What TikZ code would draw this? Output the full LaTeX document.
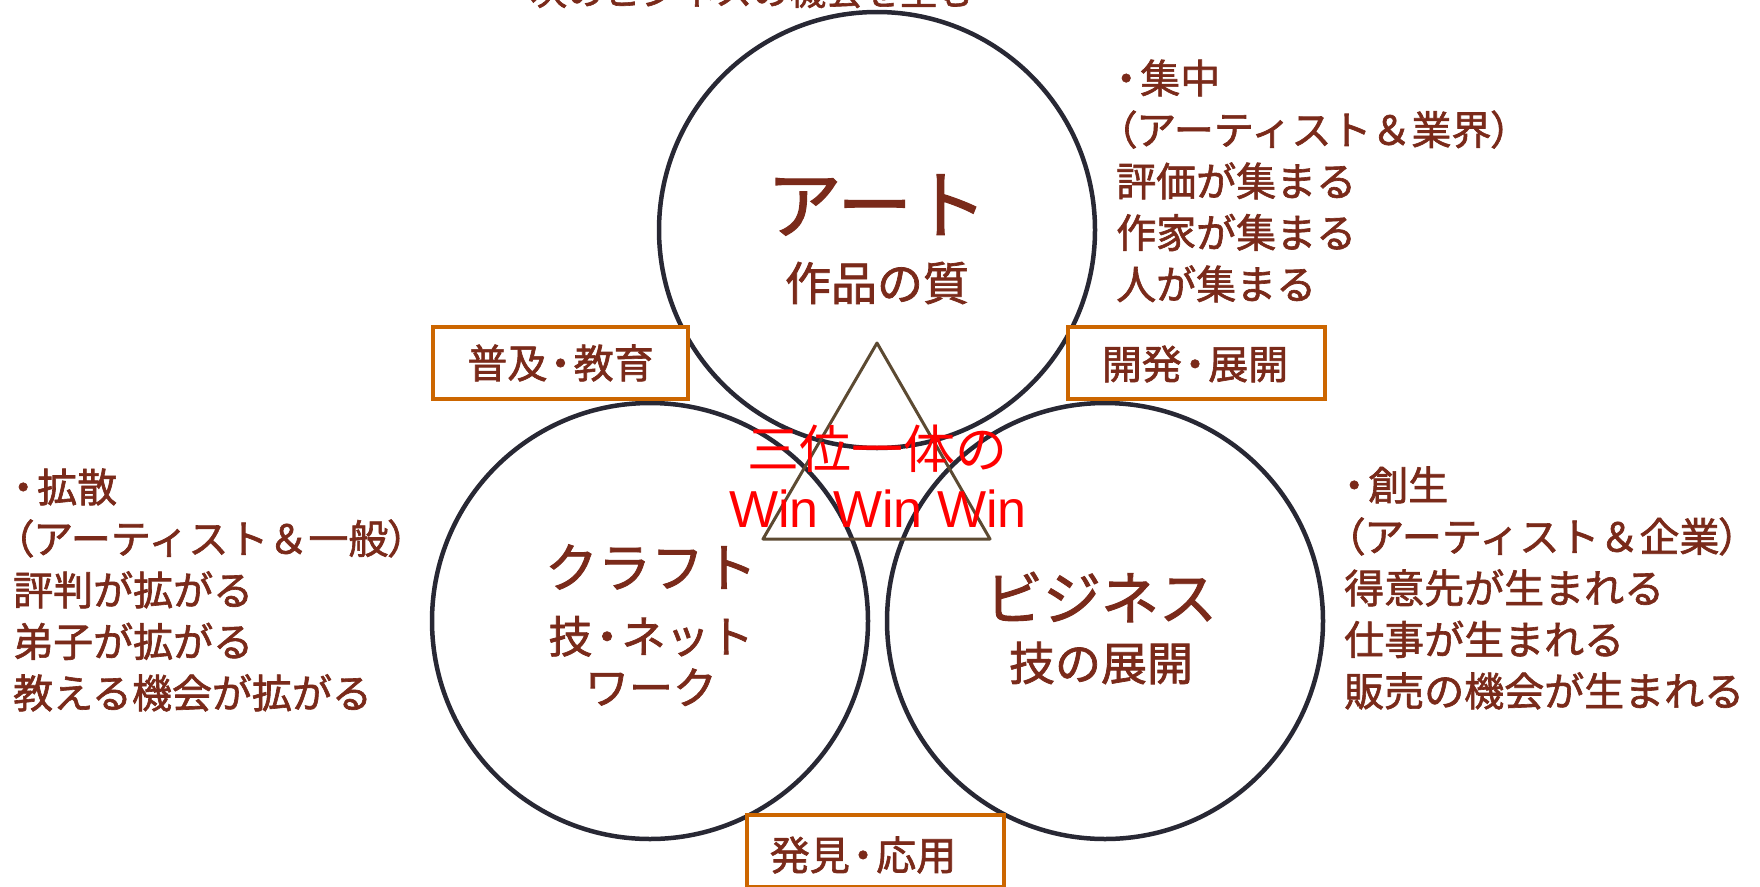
\documentclass[tikz,border=0pt]{standalone}
\usepackage{fontspec}
\setmainfont{Noto Sans CJK JP}[FakeBold=1.6]
\newfontfamily\paltfont{Noto Sans CJK JP}[FakeBold=1.6,RawFeature=+palt]
\newfontfamily\redjp{Noto Sans CJK JP}
\newfontfamily\arialfont{Liberation Sans}
\definecolor{txtbrown}{RGB}{122,42,26}
\definecolor{ringcol}{RGB}{40,40,52}
\definecolor{boxorange}{RGB}{204,102,0}
\definecolor{tricol}{RGB}{92,74,50}
\newcommand{\ndot}{{\paltfont\hspace*{0.08em}・\hspace*{0.08em}}}
\newcommand{\ldot}{{\paltfont ・\hspace*{0.1em}}}
\newcommand{\lp}{{\paltfont （}}
\newcommand{\rp}{{\paltfont ）}}
\tikzset{
  ring/.style={circle, draw=ringcol, line width=4.5pt, minimum size=436pt, inner sep=0pt},
  labelbox/.style={draw=boxorange, fill=white, line width=3.5pt, minimum width=255pt, minimum height=72pt, inner sep=0pt},
  boxtext/.style={text=txtbrown, font=\fontsize{40}{48}\selectfont, inner sep=0pt},
  sidetext/.style={text=txtbrown, font=\fontsize{40}{51.5}\selectfont, align=left, anchor=west, inner sep=0pt},
  bigtitle/.style={text=txtbrown, inner sep=0pt},
  redtext/.style={text=red, inner sep=0pt}
}
\begin{document}
\begin{tikzpicture}[x=1pt,y=-1pt]
\useasboundingbox (0,0) rectangle (1760,886);
% top caption (clipped by page top, as in the reference)
\node[text=txtbrown, font=\fontsize{37}{44}\selectfont, anchor=west, inner sep=0pt] (caption) at (530,-9) {次のビジネスの機会を生む};
% circles
\node[ring] (art) at (877,230) {};
\node[ring] (craft) at (650,621) {};
\node[ring] (biz) at (1105,621) {};
% triangle
\coordinate (tA) at (877,343);
\coordinate (tB) at (763,539);
\coordinate (tC) at (990,539);
\draw[tricol, line width=3pt, line join=round] (tA) -- (tB) -- (tC) -- cycle;
% boxes
\node[labelbox] (b1) at (560.5,363) {};
\node[boxtext] (b1t) at (b1) {普及\ndot 教育};
\node[labelbox, minimum width=257pt] (b2) at (1196.5,363) {};
\node[boxtext] (b2t) at (1195,364) {開発\ndot 展開};
\node[labelbox, minimum width=257pt] (b3) at (875.5,851) {};
\node[boxtext] (b3t) at (863,855) {発見\ndot 応用};
% circle labels
\node[bigtitle, font=\fontsize{75}{80}\selectfont] (artT) at (877,205) {アート};
\node[bigtitle, font=\fontsize{46}{54}\selectfont] (artS) at (877,283) {作品の質};
\node[bigtitle, font=\fontsize{53}{60}\selectfont] (craftT) at (651,567) {クラフト};
\node[bigtitle, font=\fontsize{44}{51}\selectfont, align=center] (craftS) at (651,661) {技\ndot ネット\\ワーク};
\node[bigtitle, font=\fontsize{58}{62}\selectfont] (bizT) at (1101,597) {ビジネス};
\node[bigtitle, font=\fontsize{46}{54}\selectfont] (bizS) at (1101,663) {技の展開};
% red center text
\node[redtext, font=\redjp\fontsize{52}{60}\selectfont] (win1) at (877,449) {三位一体の};
\node[redtext, font=\arialfont\fontsize{52}{60}\selectfont] (win2) at (878,509) {Win Win Win};
% side texts
\node[sidetext] (topR) at (1116,181) {\ldot 集中\\\lp アーティスト＆業界\rp\\評価が集まる\\作家が集まる\\人が集まる};
\node[sidetext] (left) at (13,590) {\ldot 拡散\\\lp アーティスト＆一般\rp\\評判が拡がる\\弟子が拡がる\\教える機会が拡がる};
\node[sidetext] (botR) at (1344,588) {\ldot 創生\\\lp アーティスト＆企業\rp\\得意先が生まれる\\仕事が生まれる\\販売の機会が生まれる};
\end{tikzpicture}
\end{document}
